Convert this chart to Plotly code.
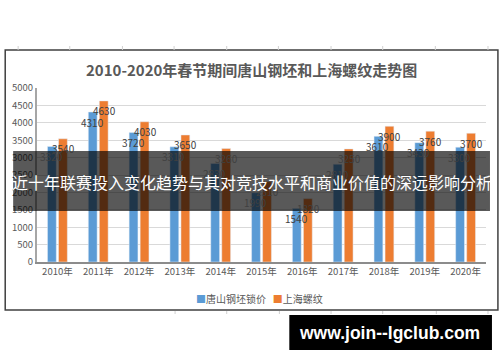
import plotly.graph_objects as go

years = ["2010年", "2011年", "2012年", "2013年", "2014年", "2015年",
         "2016年", "2017年", "2018年", "2019年", "2020年"]
tangshan = [3320, 4310, 3720, 3310, 2830, 1990, 1540, 2810, 3610, 3430, 3300]
shanghai = [3540, 4630, 4030, 3650, 3260, 2310, 1820, 3250, 3900, 3760, 3700]
series_names = ["唐山钢坯锁价", "上海螺纹"]
series_colors = ["#5B9BD5", "#ED7D31"]
title_text = "2010-2020年春节期间唐山钢坯和上海螺纹走势图"
banner_text = "近十年联赛投入变化趋势与其对竞技水平和商业价值的深远影响分析"
watermark_text = "www.join--lgclub.com"

FONT = "Noto Sans CJK SC, Microsoft YaHei, sans-serif"
GREY = "#595959"

fig = go.Figure()
for name, vals, col in zip(series_names, [tangshan, shanghai], series_colors):
    fig.add_trace(go.Bar(x=years, y=vals, name=name, marker_color=col,
                         showlegend=False, hoverinfo="skip"))

# paper-coordinate helpers (plot area: x 34..486 px, y 88..262 px)
def px(x):
    return (x - 34) / 452.0

def py(y):
    return (262 - y) / 174.0

annotations = []
for vals, shift in [(tangshan, -6), (shanghai, 6)]:
    for yr, v in zip(years, vals):
        annotations.append(dict(x=yr, y=v, xref="x", yref="y", text=str(v),
                                showarrow=False, xanchor="center",
                                yanchor="middle", xshift=shift, yshift=-10,
                                font=dict(size=10, color="#404040", family=FONT)))

shapes = []
# faint spreadsheet cell ticks around the embedded chart
for gx in [15, 67, 120, 172, 225, 277, 330, 382, 435, 488]:
    shapes.append(dict(type="line", xref="paper", yref="paper",
                       x0=px(gx), x1=px(gx), y0=py(50), y1=py(46),
                       line=dict(color="#D0D0D0", width=1)))
for gx in [173, 225, 278, 330, 382, 436, 488]:
    shapes.append(dict(type="line", xref="paper", yref="paper",
                       x0=px(gx), x1=px(gx), y0=py(311), y1=py(314),
                       line=dict(color="#D0D0D0", width=1)))
shapes += [
    dict(type="rect", xref="paper", yref="paper", x0=px(2), x1=px(498),
         y0=py(310), y1=py(50), line=dict(color="#404040", width=1.5),
         layer="below"),
    dict(type="rect", xref="paper", yref="paper", x0=px(10), x1=px(490),
         y0=py(211), y1=py(151), line=dict(width=0),
         fillcolor="rgba(0,0,0,0.65)", layer="above"),
    dict(type="rect", xref="paper", yref="paper", x0=px(288), x1=px(492),
         y0=py(350), y1=py(315), line=dict(width=0),
         fillcolor="black", layer="above"),
]

legend_html = (f"<span style='color:{series_colors[0]}'>■</span>{series_names[0]}"
               f"   <span style='color:{series_colors[1]}'>■</span>{series_names[1]}")

annotations += [
    dict(text="<b>" + title_text + "</b>", xref="paper", yref="paper",
         x=px(250), y=py(69), showarrow=False, xanchor="center", yanchor="middle",
         font=dict(size=15, color=GREY, family=FONT)),
    dict(text=legend_html, xref="paper", yref="paper", x=px(258), y=py(298),
         showarrow=False, xanchor="center", yanchor="middle",
         font=dict(size=10, color=GREY, family=FONT)),
    dict(text=banner_text, xref="paper", yref="paper", x=px(250), y=py(182),
         showarrow=False, xanchor="center", yanchor="middle",
         font=dict(size=16, color="white", family=FONT)),
    dict(text="<b>" + watermark_text + "</b>", xref="paper", yref="paper",
         x=px(389), y=py(333), showarrow=False, xanchor="center", yanchor="middle",
         font=dict(size=17.5, color="white", family="Liberation Sans, Arial, sans-serif")),
]

fig.update_layout(
    width=500, height=362,
    margin=dict(l=34, r=14, t=88, b=100),
    paper_bgcolor="white", plot_bgcolor="white",
    barmode="group", bargap=0.46, bargroupgap=0.2,
    font=dict(family=FONT, color=GREY, size=10),
    showlegend=False, hovermode=False,
    shapes=shapes, annotations=annotations,
)
fig.update_yaxes(range=[0, 5000], dtick=500, showgrid=True,
                 gridcolor="#D9D9D9", gridwidth=1, zeroline=False,
                 showline=True, linecolor="#A6A6A6", linewidth=2,
                 tickfont=dict(size=9.5, color=GREY), ticks="")
fig.update_xaxes(showline=True, linecolor="#8C8C8C", linewidth=2,
                 tickfont=dict(size=9.5, color=GREY), ticks="")

fig.write_html("out.html", config={"displayModeBar": False},
               post_script="document.body.style.margin='0';document.body.style.overflow='hidden';")
